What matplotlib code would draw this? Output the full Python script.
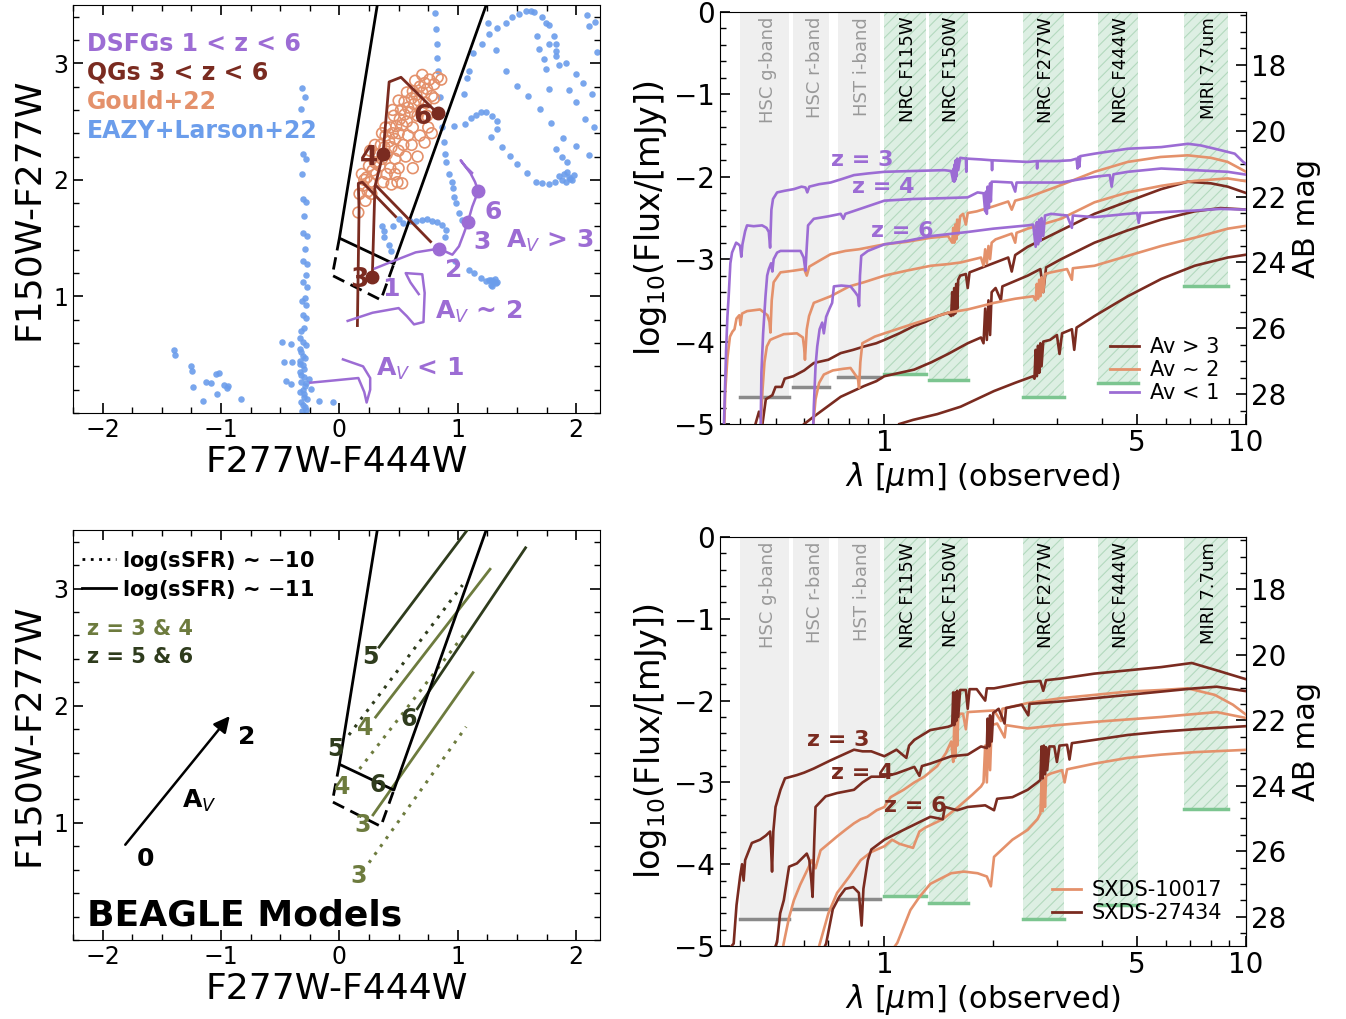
import matplotlib.pyplot as plt
from matplotlib.ticker import MultipleLocator, FixedLocator, FixedFormatter, NullFormatter
from matplotlib.lines import Line2D

plt.rcParams['font.family'] = 'DejaVu Sans'
plt.rcParams['hatch.linewidth'] = 0.8

PURPLE = '#9c6cd4'
DARK = '#7a2b20'
ORANGE = '#e4916b'
BLUE = '#6b9deb'
OLIVE = '#6d7b3e'
DKOLIVE = '#2f3c1d'

# ---------------- colour-colour selection box (F277W-F444W, F150W-F277W)
box_solid = [(0.32, 3.5), (0.0, 1.5), (0.46, 1.28), (1.24, 3.5)]
box_dash = [(0.0, 1.5), (-0.06, 1.18), (0.35, 0.97), (0.46, 1.28)]

# EAZY + Larson+22 template tracks (dots)
eazy = [(-0.318, 2.79), (-0.29, 2.71), (-0.325, 2.61), (-0.31, 2.22), (-0.284, 2.18), (-0.318, 2.05),
        (-0.31, 1.835), (-0.278, 1.807), (-0.303, 1.69), (-0.31, 1.548), (-0.27, 1.52), (-0.293, 1.41),
        (-0.31, 1.30), (-0.27, 1.28), (-0.284, 1.18), (-0.31, 1.125), (-0.27, 1.083), (-0.29, 0.99),
        (-0.318, 0.96), (-0.278, 0.93), (-0.31, 0.838), (-0.278, 0.818), (-0.297, 0.727), (-0.325, 0.70),
        (-0.333, 0.64), (-0.31, 0.605), (-0.333, 0.55), (-0.31, 0.49), (-0.336, 0.45), (-0.306, 0.41),
        (-0.333, 0.353), (-0.297, 0.31), (-0.325, 0.27), (-0.29, 0.23), (-0.333, 0.18), (-0.297, 0.137),
        (-0.325, 0.094), (-0.29, 0.05), (-0.318, 0.013), (-0.255, 0.295), (-0.24, 0.21),
        (-0.30, 0.38), (-0.32, 0.33), (-0.28, 0.26), (-0.31, 0.20), (-0.30, 0.16), (-0.27, 0.12),
        (-0.31, 0.07), (-0.28, 0.03), (-0.33, 0.42), (-0.29, 0.47), (-0.32, 0.52), (-0.28, 0.58),
        (-1.395, 0.542), (-1.39, 0.497), (-1.255, 0.406), (-1.246, 0.364), (-1.24, 0.22), (-1.128, 0.27),
        (-1.086, 0.258), (-1.044, 0.335), (-1.015, 0.34), (-0.973, 0.24), (-0.937, 0.235), (-0.953, 0.212),
        (-1.03, 0.164), (-1.156, 0.107), (-0.832, 0.12),
        (-0.487, 0.605), (-0.41, 0.59), (-0.467, 0.435), (-0.397, 0.435), (-0.453, 0.278), (-0.41, 0.25),
        (-0.17, 0.10), (-0.058, 0.094),
        (0.804, 3.433), (0.813, 3.29), (0.822, 3.163), (0.827, 3.049), (0.835, 2.935), (0.85, 2.708),
        (1.578, 3.452), (1.615, 3.447), (1.643, 3.441), (1.516, 3.424), (1.454, 3.396), (1.707, 3.396),
        (2.093, 3.418), (2.157, 3.356), (1.404, 3.347), (1.747, 3.342), (1.769, 3.327), (1.257, 3.347),
        (1.333, 3.305), (2.107, 3.319), (1.263, 3.248), (1.671, 3.234), (1.811, 3.234), (1.207, 3.163),
        (1.769, 3.168), (1.826, 3.163), (1.128, 3.092), (1.685, 3.12), (1.826, 3.106), (2.172, 3.1),
        (1.319, 3.111), (1.727, 3.035), (1.826, 3.063), (1.094, 2.935), (1.854, 2.986), (1.91, 3.006),
        (1.747, 2.949), (1.404, 2.93), (1.994, 2.912), (1.08, 2.878), (1.502, 2.807), (1.769, 2.779),
        (1.938, 2.77), (2.059, 2.827), (1.052, 2.736), (1.595, 2.722), (1.994, 2.665), (2.135, 2.736),
        (0.968, 2.466), (1.06, 2.481), (1.108, 2.532), (1.15, 2.56), (1.192, 2.586), (1.235, 2.586),
        (1.285, 2.552), (1.333, 2.509), (1.333, 2.438), (1.277, 2.367), (1.69, 2.608), (2.07, 2.523),
        (2.149, 2.452), (1.37, 2.282), (1.437, 2.202), (1.502, 2.14), (1.586, 2.06), (1.657, 1.983),
        (1.713, 1.969), (1.769, 1.963), (1.82, 1.983), (1.854, 2.032), (1.896, 2.054), (1.938, 2.026),
        (1.966, 1.997), (1.91, 1.983), (1.98, 2.04), (1.88, 2.00), (1.92, 2.07), (1.95, 2.01),
        (1.887, 2.361), (1.994, 2.287), (2.112, 2.211), (1.789, 2.486), (1.826, 2.267), (1.882, 2.196),
        (1.924, 2.154), (0.869, 2.452), (0.883, 2.324), (0.892, 2.225), (0.903, 2.154), (0.925, 2.054),
        (0.948, 1.983), (0.959, 1.926), (0.968, 1.855), (0.982, 1.798), (1.01, 1.713), (1.038, 1.656),
        (0.375, 1.563), (0.534, 1.634), (0.649, 1.649), (0.70, 1.656), (0.743, 1.662), (0.785, 1.651),
        (0.827, 1.642), (0.869, 1.614), (0.897, 1.571), (0.89, 1.514), (0.60, 1.645), (0.45, 1.60),
        (0.363, 1.60), (0.377, 1.51), (0.419, 1.44), (0.433, 1.39), (0.50, 1.66),
        (0.98, 1.30), (1.094, 1.23), (1.136, 1.202), (1.192, 1.159), (1.235, 1.131), (1.277, 1.145),
        (1.319, 1.116), (1.29, 1.088), (1.26, 1.14), (1.30, 1.13), (1.33, 1.125), (1.31, 1.15), (1.28, 1.10)]

# Gould+22 sample
gould = [(0.16, 1.72), (0.17, 1.88), (0.22, 1.82), (0.24, 1.90), (0.27, 1.88), (0.20, 1.95), (0.21, 2.00),
         (0.23, 2.02), (0.19, 2.05), (0.26, 1.98), (0.28, 2.08), (0.25, 2.12), (0.31, 2.05), (0.30, 2.15),
         (0.34, 2.12), (0.33, 2.22), (0.36, 2.18), (0.38, 2.28), (0.35, 2.30), (0.40, 2.22), (0.42, 2.33),
         (0.39, 2.38), (0.44, 2.28), (0.45, 2.40), (0.47, 2.35), (0.43, 2.45), (0.48, 2.46), (0.50, 2.40),
         (0.51, 2.52), (0.46, 2.55), (0.53, 2.47), (0.55, 2.56), (0.52, 2.60), (0.57, 2.50), (0.58, 2.62),
         (0.55, 2.67), (0.60, 2.58), (0.61, 2.70), (0.63, 2.65), (0.65, 2.73), (0.62, 2.76), (0.67, 2.68),
         (0.68, 2.80), (0.70, 2.75), (0.72, 2.83), (0.74, 2.78), (0.76, 2.86), (0.80, 2.82), (0.83, 2.88),
         (0.86, 2.86), (0.78, 2.72), (0.73, 2.66), (0.69, 2.60), (0.66, 2.55), (0.62, 2.45), (0.58, 2.38),
         (0.54, 2.30), (0.50, 2.25), (0.47, 2.18), (0.43, 2.10), (0.40, 2.05), (0.37, 1.98), (0.44, 1.96),
         (0.50, 2.10), (0.56, 2.20), (0.61, 2.30), (0.49, 1.98), (0.53, 1.97), (0.47, 2.05), (0.39, 2.45),
         (0.45, 2.60), (0.50, 2.68), (0.57, 2.75), (0.64, 2.85), (0.70, 2.90), (0.80, 2.70), (0.74, 2.55),
         (0.36, 2.40), (0.30, 2.30), (0.26, 2.25), (0.62, 2.10), (0.66, 2.20), (0.72, 2.32), (0.78, 2.40),
         (0.75, 2.45), (0.68, 2.38)]

# QG tracks 3<z<6
qg_main = [(0.278, 1.17), (0.30, 1.94), (0.368, 2.22), (0.42, 2.84), (0.52, 2.88), (0.83, 2.57)]
qg_branch = [(0.31, 1.95), (0.77, 1.47)]
qg_left = [(0.152, 0.75), (0.16, 1.32), (0.166, 1.74), (0.16, 1.97), (0.194, 1.98), (0.475, 1.685)]
qg_z = ['3', '4', '6']
qg_zpts = [(0.278, 1.17), (0.368, 2.22), (0.83, 2.57)]

# DSFG tracks 1<z<6
ds_av3 = [(0.30, 1.24), (0.447, 1.30), (0.644, 1.378), (0.841, 1.41), (0.954, 1.358), (1.01, 1.43),
          (1.052, 1.543), (1.086, 1.642), (1.122, 1.77), (1.173, 1.904), (1.145, 1.983), (1.108, 2.055),
          (1.024, 2.168), (1.06, 2.12), (1.12, 2.06)]
ds_zpts = [(0.841, 1.41), (1.086, 1.642), (1.173, 1.904)]
ds_av2 = [(0.07, 0.79), (0.28, 0.86), (0.50, 0.90), (0.57, 0.83), (0.63, 0.76), (0.71, 0.78),
          (0.72, 1.03), (0.70, 1.19), (0.56, 1.20), (0.60, 1.12), (0.67, 1.02)]
ds_av1 = [(-0.245, 0.26), (-0.04, 0.28), (0.16, 0.30), (0.21, 0.18), (0.23, 0.09), (0.26, 0.20),
          (0.26, 0.30), (0.20, 0.40), (0.03, 0.46)]

# BEAGLE model tracks: (start, end) for each z
beagle_solid = {'3': [(0.284, 1.068), (1.128, 2.282)], '4': [(0.306, 1.903), (1.272, 3.165)],
                '5': [(0.335, 2.50), (1.08, 3.50)], '6': [(0.658, 1.974), (1.572, 3.348)]}
beagle_dotted = {'3': [(0.25, 0.66), (1.07, 1.82)], '4': [(0.17, 1.46), (1.07, 2.63)],
                 '5': [(0.08, 1.75), (1.04, 3.03)]}
av_arrow = [(-1.823, 0.795), (-0.911, 1.93)]

# ---------------- photometric bands
band_names = ['HSC g-band', 'HSC r-band', 'HST i-band', 'NRC F115W', 'NRC F150W',
              'NRC F277W', 'NRC F444W', 'MIRI 7.7um']
band_lo = [0.40, 0.56, 0.745, 0.995, 1.325, 2.41, 3.90, 6.75]
band_hi = [0.545, 0.705, 0.975, 1.30, 1.70, 3.14, 5.03, 8.9]
band_depth = [-4.67, -4.55, -4.43, -4.39, -4.47, -4.67, -4.50, -3.32]
band_jwst = [False, False, False, True, True, True, True, True]

# ---------------- SEDs, top: (lambda [um], log10 flux [mJy])
p3 = [(0.360, -5.0), (0.365, -4.10), (0.368, -3.70), (0.371, -3.45), (0.375, -3.05), (0.379, -2.92),
      (0.384, -2.86), (0.389, -2.80), (0.395, -2.82), (0.399, -2.84), (0.402, -2.97), (0.405, -2.82),
      (0.412, -2.66), (0.417, -2.59), (0.435, -2.60), (0.459, -2.59), (0.472, -2.62), (0.479, -2.67),
      (0.483, -2.86), (0.487, -2.40), (0.492, -2.27), (0.505, -2.19), (0.53, -2.17), (0.562, -2.15),
      (0.59, -2.12), (0.605, -2.13), (0.612, -2.19), (0.62, -2.12), (0.66, -2.09), (0.71, -2.07),
      (0.76, -2.03), (0.824, -1.98), (0.90, -1.96), (1.0, -1.94), (1.2, -1.93), (1.465, -1.92),
      (1.53, -1.93), (1.55, -2.05), (1.555, -1.90), (1.56, -2.06), (1.565, -1.85), (1.57, -2.04),
      (1.575, -1.80), (1.58, -2.0), (1.59, -1.78), (1.60, -1.92), (1.62, -1.77), (1.68, -1.78),
      (1.685, -1.94), (1.69, -1.78), (1.85, -1.79), (1.98, -1.80), (1.985, -1.92), (1.99, -1.80),
      (2.49, -1.82), (2.64, -1.81), (2.645, -1.90), (2.65, -1.81), (3.0, -1.81), (3.28, -1.80),
      (3.40, -1.78), (3.42, -1.90), (3.44, -1.76), (3.46, -1.88), (3.48, -1.75), (3.81, -1.72),
      (4.71, -1.66), (5.83, -1.64), (6.91, -1.60), (7.5, -1.62), (8.2, -1.66), (9.31, -1.72),
      (9.82, -1.82), (10.2, -1.87)]
p4 = [(0.455, -5.0), (0.457, -4.38), (0.462, -3.90), (0.469, -3.45), (0.474, -3.20), (0.479, -3.12),
      (0.486, -3.05), (0.49, -3.15), (0.494, -3.0), (0.505, -2.92), (0.516, -2.90), (0.55, -2.90),
      (0.586, -2.90), (0.598, -2.98), (0.605, -3.14), (0.610, -2.85), (0.615, -2.59), (0.638, -2.51),
      (0.70, -2.48), (0.757, -2.45), (0.77, -2.51), (0.78, -2.45), (0.87, -2.38), (1.0, -2.29),
      (1.2, -2.27), (1.45, -2.26), (1.70, -2.25), (1.81, -2.19), (1.88, -2.20), (1.90, -2.42),
      (1.91, -2.18), (1.92, -2.45), (1.93, -2.12), (1.945, -2.38), (1.96, -2.08), (1.97, -2.30),
      (1.98, -2.06), (2.03, -2.06), (2.25, -2.07), (2.3, -2.18), (2.32, -2.07), (3.08, -2.07),
      (3.81, -2.0), (4.2, -1.98), (4.25, -2.12), (4.3, -1.97), (4.71, -1.94), (5.83, -1.90),
      (7.21, -1.92), (8.9, -1.94), (10.2, -1.98)]
p6 = [(0.636, -5.0), (0.638, -4.79), (0.645, -4.3), (0.652, -4.06), (0.662, -3.85), (0.673, -3.77),
      (0.68, -3.9), (0.69, -3.70), (0.705, -3.60), (0.717, -3.53), (0.725, -3.33), (0.76, -3.32),
      (0.806, -3.33), (0.83, -3.40), (0.845, -3.45), (0.851, -3.57), (0.856, -3.20), (0.863, -2.96),
      (0.90, -2.90), (1.0, -2.82), (1.15, -2.78), (1.344, -2.72), (1.70, -2.67), (2.0, -2.63),
      (2.49, -2.59), (2.58, -2.58), (2.62, -2.85), (2.64, -2.55), (2.66, -2.82), (2.68, -2.52),
      (2.70, -2.78), (2.72, -2.50), (2.75, -2.72), (2.78, -2.47), (2.89, -2.45), (3.2, -2.47),
      (3.3, -2.62), (3.32, -2.47), (3.81, -2.49), (4.71, -2.45), (5.0, -2.44), (5.05, -2.56),
      (5.1, -2.44), (5.83, -2.43), (7.21, -2.41), (8.5, -2.39), (10.2, -2.40)]
o3 = [(0.361, -5.0), (0.363, -4.6), (0.368, -4.2), (0.374, -3.94), (0.38, -3.88), (0.385, -3.85),
      (0.39, -3.72), (0.397, -3.68), (0.40, -3.80), (0.404, -3.66), (0.417, -3.63), (0.453, -3.61),
      (0.475, -3.68), (0.481, -3.76), (0.484, -3.89), (0.488, -3.50), (0.494, -3.28), (0.516, -3.16),
      (0.56, -3.14), (0.60, -3.12), (0.61, -3.20), (0.62, -3.09), (0.66, -3.02), (0.71, -2.94),
      (0.78, -2.90), (0.85, -2.88), (1.0, -2.82), (1.15, -2.79), (1.344, -2.74), (1.50, -2.72),
      (1.54, -2.80), (1.55, -2.62), (1.56, -2.80), (1.57, -2.58), (1.58, -2.76), (1.59, -2.52),
      (1.60, -2.70), (1.62, -2.48), (1.65, -2.45), (1.68, -2.58), (1.70, -2.44), (1.8, -2.42),
      (2.0, -2.36), (2.2, -2.30), (2.25, -2.40), (2.3, -2.29), (2.49, -2.25), (3.0, -2.12),
      (3.81, -1.94), (4.71, -1.82), (5.8, -1.76), (6.9, -1.74), (8.0, -1.77), (8.9, -1.82), (10.2, -1.96)]
o4 = [(0.456, -5.0), (0.46, -4.6), (0.466, -4.25), (0.473, -4.06), (0.483, -3.98), (0.494, -3.96),
      (0.527, -3.91), (0.573, -3.90), (0.595, -3.95), (0.60, -4.08), (0.603, -4.22), (0.61, -3.85),
      (0.619, -3.69), (0.638, -3.53), (0.71, -3.45), (0.80, -3.33), (0.878, -3.28), (1.0, -3.20),
      (1.15, -3.14), (1.344, -3.08), (1.5, -3.06), (1.625, -3.04), (1.85, -2.98), (1.88, -3.08),
      (1.90, -2.88), (1.92, -3.05), (1.94, -2.84), (1.96, -3.00), (1.98, -2.80), (2.03, -2.76),
      (2.25, -2.69), (2.3, -2.80), (2.32, -2.68), (2.49, -2.63), (3.08, -2.51), (3.81, -2.31),
      (4.71, -2.19), (5.83, -2.11), (7.21, -2.05), (8.9, -2.02), (10.2, -2.06)]
o6 = [(0.636, -5.0), (0.645, -4.7), (0.66, -4.5), (0.68, -4.40), (0.72, -4.35), (0.77, -4.33),
      (0.806, -4.32), (0.83, -4.40), (0.845, -4.45), (0.851, -4.56), (0.858, -4.25), (0.869, -4.02),
      (0.94, -3.94), (1.0, -3.90), (1.21, -3.78), (1.5, -3.65), (1.7, -3.61), (2.01, -3.53),
      (2.3, -3.48), (2.58, -3.45), (2.62, -3.50), (2.64, -3.30), (2.66, -3.48), (2.68, -3.25),
      (2.70, -3.45), (2.72, -3.22), (2.75, -3.40), (2.78, -3.18), (2.89, -3.16), (3.2, -3.12),
      (3.3, -3.25), (3.32, -3.11), (3.81, -3.08), (4.71, -2.96), (5.83, -2.84), (7.21, -2.74),
      (8.9, -2.63), (10.2, -2.59)]
d3 = [(0.44, -5.0), (0.45, -4.85), (0.46, -5.0), (0.47, -4.7), (0.49, -4.65), (0.50, -4.55),
      (0.52, -4.55), (0.53, -4.45), (0.56, -4.42), (0.60, -4.35), (0.638, -4.26), (0.70, -4.22),
      (0.757, -4.14), (0.82, -4.10), (0.878, -4.06), (0.95, -4.02), (1.0, -3.98), (1.1, -3.90),
      (1.209, -3.81), (1.30, -3.76), (1.403, -3.69), (1.50, -3.65), (1.53, -3.69), (1.54, -3.40),
      (1.55, -3.68), (1.56, -3.35), (1.57, -3.66), (1.58, -3.30), (1.59, -3.60), (1.60, -3.25),
      (1.62, -3.20), (1.68, -3.18), (1.70, -3.35), (1.72, -3.16), (2.0, -3.05), (2.2, -2.98),
      (2.25, -3.15), (2.3, -2.95), (2.49, -2.85), (3.08, -2.65), (3.81, -2.45), (4.71, -2.30),
      (5.83, -2.15), (6.9, -2.06), (8.0, -2.08), (8.9, -2.12), (10.2, -2.21)]
d4 = [(0.60, -5.0), (0.638, -4.91), (0.70, -4.78), (0.757, -4.67), (0.82, -4.60), (0.878, -4.54),
      (0.95, -4.48), (1.0, -4.42), (1.1, -4.38), (1.209, -4.34), (1.35, -4.25), (1.5, -4.15),
      (1.70, -4.02), (1.85, -3.95), (1.88, -4.02), (1.90, -3.60), (1.92, -3.98), (1.94, -3.50),
      (1.96, -3.92), (1.98, -3.40), (2.03, -3.35), (2.1, -3.50), (2.12, -3.33), (2.49, -3.20),
      (2.7, -3.12), (2.75, -3.40), (2.8, -3.10), (3.08, -3.0), (3.81, -2.80), (4.71, -2.65),
      (5.83, -2.52), (7.21, -2.42), (8.5, -2.38), (10.2, -2.40)]
d6 = [(1.10, -5.0), (1.2, -4.95), (1.4, -4.88), (1.625, -4.79), (2.01, -4.60), (2.3, -4.50),
      (2.58, -4.42), (2.60, -4.45), (2.62, -4.10), (2.64, -4.42), (2.66, -4.05), (2.68, -4.38),
      (2.70, -4.02), (2.72, -4.30), (2.75, -4.0), (2.87, -3.98), (3.0, -3.92), (3.05, -4.15),
      (3.1, -3.90), (3.3, -3.85), (3.35, -4.10), (3.4, -3.83), (3.81, -3.69), (4.71, -3.45),
      (5.83, -3.24), (7.21, -3.08), (8.9, -2.98), (10.2, -2.94)]

# ---------------- SEDs, bottom: SXDS-27434 (dark) and SXDS-10017 (orange)
bd3 = [(0.378, -5.0), (0.383, -4.97), (0.39, -4.5), (0.399, -4.15), (0.404, -4.0), (0.408, -4.20),
       (0.412, -3.95), (0.43, -3.74), (0.453, -3.70), (0.47, -3.65), (0.483, -3.60), (0.486, -3.80),
       (0.489, -4.09), (0.493, -3.60), (0.50, -3.30), (0.516, -3.09), (0.531, -2.95), (0.573, -2.91),
       (0.60, -2.88), (0.638, -2.83), (0.71, -2.73), (0.824, -2.60), (0.87, -2.62), (0.92, -2.62),
       (1.0, -2.68), (1.08, -2.60), (1.15, -2.70), (1.17, -2.55), (1.21, -2.48), (1.34, -2.36),
       (1.5, -2.32), (1.54, -2.30), (1.55, -1.90), (1.56, -2.30), (1.57, -1.90), (1.58, -2.25),
       (1.59, -1.88), (1.60, -2.20), (1.62, -1.87), (1.68, -1.87), (1.70, -2.10), (1.72, -1.86),
       (1.8, -1.86), (1.9, -2.0), (1.92, -1.85), (2.01, -1.85), (2.49, -1.77), (2.7, -1.76),
       (2.75, -1.88), (2.8, -1.75), (3.08, -1.73), (3.81, -1.67), (4.71, -1.63), (5.83, -1.59),
       (7.08, -1.54), (8.3, -1.63), (10.2, -1.75)]
bo3 = [(0.525, -5.0), (0.527, -4.96), (0.545, -4.65), (0.562, -4.44), (0.585, -4.25), (0.612, -4.07),
       (0.63, -3.95), (0.645, -4.05), (0.666, -3.83), (0.70, -3.75), (0.74, -3.66), (0.78, -3.58),
       (0.824, -3.50), (0.86, -3.45), (0.897, -3.42), (0.952, -3.34), (1.0, -3.30), (1.04, -3.18),
       (1.13, -3.09), (1.21, -3.0), (1.29, -2.93), (1.40, -2.80), (1.48, -2.64), (1.53, -2.50),
       (1.55, -2.75), (1.56, -2.30), (1.57, -2.70), (1.58, -2.25), (1.59, -2.55), (1.60, -2.20),
       (1.62, -2.16), (1.65, -2.16), (1.68, -2.35), (1.70, -2.14), (2.01, -2.12), (2.1, -2.25),
       (2.12, -2.10), (2.49, -2.03), (3.08, -1.97), (3.81, -1.93), (4.71, -1.89), (5.83, -1.87),
       (6.9, -1.85), (8.2, -1.93), (9.2, -2.05), (10.2, -2.2)]
bd4 = [(0.50, -5.0), (0.505, -4.95), (0.515, -4.6), (0.527, -4.44), (0.545, -4.03), (0.573, -3.99),
       (0.61, -3.87), (0.62, -3.95), (0.628, -4.20), (0.633, -4.40), (0.64, -3.70), (0.645, -3.30),
       (0.688, -3.17), (0.74, -3.13), (0.824, -3.09), (0.87, -3.0), (0.92, -2.93), (1.0, -2.93),
       (1.08, -2.89), (1.21, -2.81), (1.25, -2.92), (1.27, -2.80), (1.34, -2.77), (1.53, -2.68),
       (1.7, -2.66), (1.85, -2.56), (1.92, -2.58), (1.93, -2.22), (1.95, -2.56), (1.96, -2.18),
       (1.98, -2.50), (2.0, -2.15), (2.07, -2.10), (2.15, -2.28), (2.17, -2.09), (2.4, -2.05),
       (2.5, -2.18), (2.52, -2.04), (3.08, -2.01), (3.81, -1.97), (4.71, -1.93), (7.2, -1.85),
       (8.3, -1.83), (10.2, -1.89)]
bo4 = [(0.66, -5.0), (0.70, -4.6), (0.74, -4.35), (0.80, -4.15), (0.86, -3.95), (0.92, -3.85),
       (1.0, -3.78), (1.05, -3.70), (1.1, -3.75), (1.2, -3.80), (1.25, -3.60), (1.3, -3.55),
       (1.45, -3.45), (1.6, -3.30), (1.75, -3.15), (1.85, -3.05), (1.88, -3.0), (1.90, -2.55),
       (1.92, -3.0), (1.94, -2.40), (1.96, -2.85), (1.98, -2.30), (2.05, -2.28), (2.15, -2.45),
       (2.17, -2.30), (2.49, -2.34), (3.0, -2.30), (3.81, -2.26), (5.83, -2.20), (8.3, -2.14),
       (10.2, -2.22)]
bd6 = [(0.685, -5.0), (0.69, -4.97), (0.72, -4.55), (0.75, -4.40), (0.78, -4.30), (0.82, -4.28),
       (0.85, -4.35), (0.865, -4.75), (0.875, -4.30), (0.90, -3.95), (0.92, -3.82), (1.0, -3.70),
       (1.13, -3.58), (1.34, -3.42), (1.45, -3.45), (1.47, -3.30), (1.59, -3.34), (1.7, -3.30),
       (1.9, -3.28), (2.01, -3.34), (2.05, -3.20), (2.26, -3.18), (2.49, -3.09), (2.65, -3.0),
       (2.70, -2.97), (2.72, -2.56), (2.74, -2.95), (2.76, -2.55), (2.78, -2.90), (2.80, -2.57),
       (2.82, -2.85), (2.86, -2.56), (2.95, -2.56), (3.0, -2.75), (3.05, -2.55), (3.2, -2.54),
       (3.25, -2.72), (3.3, -2.52), (3.81, -2.48), (4.71, -2.42), (5.83, -2.38), (7.21, -2.35),
       (10.2, -2.31)]
bo6 = [(1.07, -5.0), (1.086, -4.96), (1.18, -4.56), (1.25, -4.40), (1.34, -4.24), (1.53, -4.11),
       (1.66, -4.09), (1.81, -4.11), (1.92, -4.15), (1.97, -4.27), (2.01, -3.91), (2.26, -3.70),
       (2.49, -3.58), (2.65, -3.45), (2.70, -3.38), (2.72, -3.0), (2.74, -3.35), (2.76, -2.95),
       (2.78, -3.30), (2.80, -2.92), (2.89, -2.89), (3.1, -2.85), (3.15, -3.0), (3.2, -2.84),
       (3.81, -2.77), (4.71, -2.70), (5.83, -2.66), (7.21, -2.63), (10.2, -2.60)]


def xy(pts):
    return [p[0] for p in pts], [p[1] for p in pts]


fig = plt.figure(figsize=(13.46, 10.19), dpi=100)
ax1 = fig.add_axes([0.0542, 0.5947, 0.3915, 0.4004])
ax3 = fig.add_axes([0.0542, 0.0775, 0.3915, 0.4024])
ax2 = fig.add_axes([0.5349, 0.5839, 0.3908, 0.4044])
ax4 = fig.add_axes([0.5349, 0.0716, 0.3908, 0.4014])


def style_cc(ax):
    ax.set_xlim(-2.25, 2.2)
    ax.set_ylim(0, 3.5)
    ax.set_xticks([-2, -1, 0, 1, 2])
    ax.set_yticks([1, 2, 3])
    ax.xaxis.set_minor_locator(MultipleLocator(0.25))
    ax.yaxis.set_minor_locator(MultipleLocator(0.2))
    ax.tick_params(which='both', direction='in', top=True, right=True, labelsize=17)
    ax.tick_params(which='major', length=7, width=1.2)
    ax.tick_params(which='minor', length=4, width=1)
    ax.set_xlabel('F277W-F444W', fontsize=26, labelpad=2)
    ax.set_ylabel('F150W-F277W', fontsize=26, labelpad=6)


def draw_box(ax):
    ax.plot(*xy(box_solid), color='k', lw=2, zorder=4)
    ax.plot(*xy(box_dash), color='k', lw=2, ls=(0, (4.5, 2.5)), zorder=4)


# ---- top left
style_cc(ax1)
ax1.scatter(*xy(eazy), s=22, color=BLUE, lw=0, alpha=0.9, zorder=1)
ax1.scatter(*xy(gould), s=60, facecolors='none', edgecolors=ORANGE, lw=1.2, zorder=2)
draw_box(ax1)
for tr in (qg_main, qg_branch, qg_left):
    ax1.plot(*xy(tr), color=DARK, lw=2, zorder=5)
ax1.plot(*xy(qg_zpts), 'o', color=DARK, ms=9, zorder=6)
for lab, (x, y), dx, dy in zip(qg_z, qg_zpts, [-0.11, -0.12, -0.13], [-0.03, -0.03, -0.03]):
    ax1.text(x + dx, y + dy, lab, color=DARK, fontsize=19, fontweight='bold', ha='center', va='center', zorder=6)
for tr in (ds_av3, ds_av2, ds_av1):
    ax1.plot(*xy(tr), color=PURPLE, lw=1.8, zorder=5)
ax1.plot(*xy(ds_zpts), 'o', color=PURPLE, ms=9, zorder=6)
for lab, x, y in [('1', 0.433, 1.06), ('2', 0.968, 1.23), ('3', 1.207, 1.47), ('6', 1.297, 1.727)]:
    ax1.text(x, y, lab, color=PURPLE, fontsize=18, fontweight='bold', ha='center', va='center')
ax1.text(1.78, 1.477, r'A$_V$ > 3', color=PURPLE, fontsize=18, fontweight='bold', ha='center', va='center')
ax1.text(1.18, 0.864, r'A$_V$ ~ 2', color=PURPLE, fontsize=18, fontweight='bold', ha='center', va='center')
ax1.text(0.68, 0.378, r'A$_V$ < 1', color=PURPLE, fontsize=18, fontweight='bold', ha='center', va='center')
for i, (txt, col) in enumerate([('DSFGs 1 < z < 6', PURPLE), ('QGs 3 < z < 6', DARK),
                                ('Gould+22', ORANGE), ('EAZY+Larson+22', BLUE)]):
    ax1.text(0.027, 0.905 - 0.0715 * i, txt, color=col, fontsize=17, fontweight='bold',
             transform=ax1.transAxes, va='center')

# ---- bottom left
style_cc(ax3)
draw_box(ax3)
zcol = {'3': OLIVE, '4': OLIVE, '5': DKOLIVE, '6': DKOLIVE}
for z, seg in beagle_solid.items():
    ax3.plot(*xy(seg), color=zcol[z], lw=2, zorder=3)
for z, seg in beagle_dotted.items():
    ax3.plot(*xy(seg), color=zcol[z], lw=2.2, ls=(0, (1, 2.2)), zorder=3)
for z, x, y in [('5', 0.264, 2.416), ('6', 0.582, 1.889), ('4', 0.222, 1.809), ('3', 0.194, 0.983),
                ('5', -0.031, 1.632), ('4', 0.025, 1.305), ('6', 0.32, 1.319), ('3', 0.166, 0.55)]:
    ax3.text(x, y, z, color=zcol[z], fontsize=17, fontweight='bold', ha='center', va='center', zorder=5)
ax3.annotate('', xy=av_arrow[1], xytext=av_arrow[0],
             arrowprops=dict(arrowstyle='-|>', color='k', lw=1.8, mutation_scale=24))
ax3.text(-1.637, 0.69, '0', fontsize=18, fontweight='bold', ha='center', va='center')
ax3.text(-0.785, 1.735, '2', fontsize=18, fontweight='bold', ha='center', va='center')
ax3.text(-1.18, 1.19, r'A$_V$', fontsize=18, fontweight='bold', ha='center', va='center')
h = [Line2D([], [], color='k', lw=2, ls=(0, (1, 2))), Line2D([], [], color='k', lw=2)]
ax3.legend(h, [r'log(sSFR) ~ $-$10', r'log(sSFR) ~ $-$11'], loc='upper left', bbox_to_anchor=(0.01, 0.965),
           frameon=False, prop={'weight': 'bold', 'size': 15}, handlelength=1.6, handletextpad=0.3,
           labelspacing=0.25, borderaxespad=0, borderpad=0.2)
ax3.text(0.027, 0.759, 'z = 3 & 4', color=OLIVE, fontsize=15, fontweight='bold', transform=ax3.transAxes, va='center')
ax3.text(0.027, 0.690, 'z = 5 & 6', color=DKOLIVE, fontsize=15, fontweight='bold', transform=ax3.transAxes, va='center')
ax3.text(0.027, 0.06, 'BEAGLE Models', fontsize=26, fontweight='bold', transform=ax3.transAxes, va='center')


def style_sed(ax):
    ax.set_xscale('log')
    ax.set_xlim(0.351, 10)
    ax.set_ylim(-5, 0)
    ax.xaxis.set_major_locator(FixedLocator([1, 5, 10]))
    ax.xaxis.set_major_formatter(FixedFormatter(['1', '5', '10']))
    ax.xaxis.set_minor_locator(FixedLocator([0.4, 0.5, 0.6, 0.7, 0.8, 0.9, 2, 3, 4, 6, 7, 8, 9]))
    ax.xaxis.set_minor_formatter(NullFormatter())
    ax.yaxis.set_major_locator(MultipleLocator(1))
    ax.yaxis.set_minor_locator(MultipleLocator(0.2))
    ax.tick_params(which='both', direction='in', labelsize=20, right=False)
    ax.tick_params(which='major', length=7, width=1.2)
    ax.tick_params(which='minor', length=4, width=1)
    sec = ax.secondary_yaxis('right', functions=(lambda f: 16.4 - 2.5 * f, lambda m: (16.4 - m) / 2.5))
    sec.set_yticks([18, 20, 22, 24, 26, 28])
    sec.yaxis.set_minor_locator(MultipleLocator(0.5))
    sec.tick_params(which='both', direction='in', labelsize=20)
    sec.tick_params(which='major', length=7, width=1.2)
    sec.tick_params(which='minor', length=4, width=1)
    sec.set_ylabel('AB mag', fontsize=22)
    ax.set_ylabel(r'log$_{10}$(Flux/[mJy])', fontsize=24)
    ax.set_xlabel(r'$\lambda$ [$\mu$m] (observed)', fontsize=22, labelpad=2)
    for name, lo, hi, dep, jw in zip(band_names, band_lo, band_hi, band_depth, band_jwst):
        if jw:
            ax.fill_between([lo, hi], [dep, dep], [0, 0], facecolor='#ddefe3', edgecolor='#b3d9be',
                            hatch='///', lw=0, zorder=0)
            ax.plot([lo, hi], [dep, dep], color='#7cc590', lw=2.5, zorder=1)
            tc = 'k'
        else:
            ax.fill_between([lo, hi], [dep, dep], [0, 0], facecolor='#efefef', lw=0, zorder=0)
            ax.plot([lo, hi], [dep, dep], color='#8a8a8a', lw=2.5, zorder=1)
            tc = '#999999'
        ax.text((lo * hi) ** 0.5 * 1.02, -0.06, name, rotation=90, ha='center', va='top',
                fontsize=13, color=tc, zorder=2)


# ---- top right
style_sed(ax2)
for s in (d3, d4, d6):
    ax2.plot(*xy(s), color=DARK, lw=1.9, zorder=3)
for s in (o3, o4, o6):
    ax2.plot(*xy(s), color=ORANGE, lw=1.9, zorder=3)
for s in (p3, p4, p6):
    ax2.plot(*xy(s), color=PURPLE, lw=1.9, zorder=4)
for txt, x, y in [('z = 3', 0.869, -1.80), ('z = 4', 0.994, -2.13), ('z = 6', 1.12, -2.66)]:
    ax2.text(x, y, txt, color=PURPLE, fontsize=16, fontweight='bold', ha='center', va='center', zorder=5)
h = [Line2D([], [], color=c, lw=2) for c in (DARK, ORANGE, PURPLE)]
ax2.legend(h, ['Av > 3', 'Av ~ 2', 'Av < 1'], loc='lower right', bbox_to_anchor=(0.965, 0.03),
           frameon=False, fontsize=15, handlelength=1.4, handletextpad=0.5, labelspacing=0.15,
           borderaxespad=0)

# ---- bottom right
style_sed(ax4)
for s in (bo3, bo4, bo6):
    ax4.plot(*xy(s), color=ORANGE, lw=1.9, zorder=3)
for s in (bd3, bd4, bd6):
    ax4.plot(*xy(s), color=DARK, lw=1.9, zorder=4)
for txt, x, y in [('z = 3', 0.745, -2.48), ('z = 4', 0.869, -2.89), ('z = 6', 1.22, -3.29)]:
    ax4.text(x, y, txt, color=DARK, fontsize=16, fontweight='bold', ha='center', va='center', zorder=5)
h = [Line2D([], [], color=c, lw=2) for c in (ORANGE, DARK)]
ax4.legend(h, ['SXDS-10017', 'SXDS-27434'], loc='lower right', bbox_to_anchor=(0.97, 0.035),
           frameon=False, fontsize=15, handlelength=1.4, handletextpad=0.5, labelspacing=0.15,
           borderaxespad=0)

fig.savefig('out.png', dpi=100)
